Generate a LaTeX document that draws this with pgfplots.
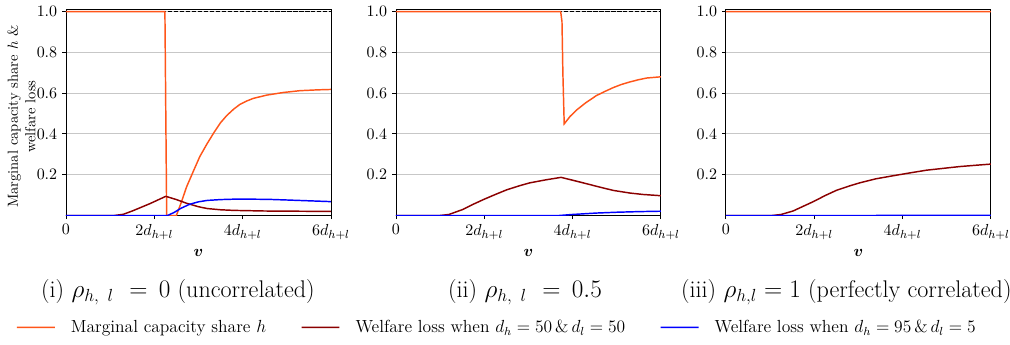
\documentclass[border=0pt]{standalone}
\usepackage{amsmath}
\usepackage{pgfplots}
\pgfplotsset{compat=1.18}
\definecolor{myorange}{RGB}{255,85,25}
\definecolor{mydarkred}{RGB}{139,0,0}
\definecolor{myblue}{RGB}{0,0,255}
\pgfplotsset{myax/.style={
  scale only axis, width=181.5pt, height=141.1pt,
  xmin=0, xmax=6, ymin=0, ymax=1.01,
  xtick={0,2,4,6},
  xticklabels={$0$,$2d_{h+l}$,$4d_{h+l}$,$6d_{h+l}$},
  ytick={0.2,0.4,0.6,0.8,1.0},
  yticklabel style={/pgf/number format/.cd, fixed, fixed zerofill, precision=1},
  ymajorgrids, grid style={black!22, line width=0.6pt},
  tick align=outside, tick pos=left,
  axis line style={line width=0.6pt},
  major tick length=2.5pt,
  every tick/.style={black, line width=0.6pt},
  tick label style={font=\fontsize{11}{13}\selectfont},
  xlabel={$\boldsymbol{v}$},
  xlabel style={font=\fontsize{10.5}{12}\selectfont},
}}
\begin{document}
\begin{tikzpicture}
\useasboundingbox (-45.2pt,-88.7pt) rectangle (646.6pt,147.6pt);
% Panel 1
\begin{axis}[myax, at={(0pt,0pt)},
  ylabel={\begin{tabular}{@{}c@{}}Marginal capacity share $h$ \&\\welfare loss\end{tabular}},
  ylabel style={font=\fontsize{10}{12}\selectfont,
    at={(axis description cs:-0.162,0.48)}, anchor=center},
  legend columns=3,
  legend style={at={(1.628,-0.5436)}, anchor=center, draw=none, fill=none,
    font=\fontsize{12}{14}\selectfont,
    /tikz/every odd column/.append style={column sep=8.5pt},
    /tikz/every even column/.append style={column sep=21.7pt}},
  legend cell align=left,
]
\addlegendimage{legend image code/.code={\draw[myorange, line width=1pt] (0pt,0pt) -- (26pt,0.05pt);}}
\addlegendentry{Marginal capacity share $h$}
\addlegendimage{legend image code/.code={\draw[mydarkred, line width=1pt] (0pt,0pt) -- (26pt,0.05pt);}}
\addlegendentry{Welfare loss when $d_h=50\,\&\,d_l=50$}
\addlegendimage{legend image code/.code={\draw[myblue, line width=1pt] (0pt,0pt) -- (26pt,0.05pt);}}
\addlegendentry{Welfare loss when $d_h=95\,\&\,d_l=5$}
\addplot[draw=black, dash pattern=on 2.8pt off 1.3pt, line width=0.6pt, forget plot] coordinates {(0,1) (3,1) (6,1)};
\addplot[draw=myorange, line width=1pt, forget plot] coordinates {(0,1) (2.24,1) (2.28,0) (2.5,0) (2.62,0.07) (2.73,0.14) (2.88,0.215) (3.03,0.289) (3.19,0.35) (3.34,0.403) (3.5,0.455) (3.64,0.49) (3.8,0.522) (3.94,0.545) (4.1,0.562) (4.24,0.574) (4.54,0.59) (4.92,0.603) (5.3,0.612) (5.7,0.616) (6,0.618)};
\addplot[draw=mydarkred, line width=1pt, forget plot] coordinates {(0,0) (1.1,0) (1.3,0.006) (1.5,0.022) (1.7,0.04) (1.9,0.058) (2.1,0.078) (2.26,0.094) (2.5,0.078) (2.73,0.06) (3.0,0.043) (3.2,0.034) (3.5,0.028) (3.8,0.025) (4.5,0.022) (5.2,0.021) (6,0.02)};
\addplot[draw=myblue, line width=1pt, forget plot] coordinates {(0,0) (2.3,0) (2.45,0.015) (2.6,0.035) (2.8,0.055) (3.0,0.067) (3.2,0.074) (3.5,0.078) (3.8,0.08) (4.2,0.08) (4.6,0.079) (5.0,0.076) (5.5,0.072) (6,0.068)};
\end{axis}
% Panel 2
\begin{axis}[myax, at={(226pt,0pt)}]
\addplot[draw=black, dash pattern=on 2.8pt off 1.3pt, line width=0.6pt] coordinates {(0,1) (3,1) (6,1)};
\addplot[draw=myorange, line width=1pt] coordinates {(0,1) (3.73,1) (3.76,0.95) (3.78,0.7) (3.81,0.449) (3.94,0.485) (4.09,0.517) (4.3,0.553) (4.54,0.588) (4.75,0.61) (4.92,0.627) (5.1,0.642) (5.3,0.655) (5.5,0.666) (5.68,0.674) (6,0.68)};
\addplot[draw=mydarkred, line width=1pt] coordinates {(0,0) (1.0,0) (1.2,0.005) (1.52,0.03) (1.75,0.055) (1.98,0.078) (2.25,0.103) (2.51,0.126) (2.8,0.146) (3.03,0.16) (3.4,0.175) (3.74,0.187) (4.0,0.173) (4.24,0.16) (4.6,0.14) (4.92,0.123) (5.3,0.11) (5.6,0.103) (6,0.097)};
\addplot[draw=myblue, line width=1pt] coordinates {(0,0) (3.7,0) (4.0,0.005) (4.54,0.012) (5.0,0.016) (5.5,0.019) (6,0.021)};
\end{axis}
% Panel 3
\begin{axis}[myax, at={(452pt,0pt)}]
\addplot[draw=black, dash pattern=on 2.8pt off 1.3pt, line width=0.6pt] coordinates {(0,1) (3,1) (6,1)};
\addplot[draw=myorange, line width=1pt] coordinates {(0,1) (3,1) (6,0.9995)};
\addplot[draw=mydarkred, line width=1pt] coordinates {(0,0) (1.05,0) (1.25,0.005) (1.52,0.022) (1.75,0.045) (1.98,0.068) (2.25,0.098) (2.51,0.124) (2.8,0.145) (3.03,0.16) (3.4,0.18) (3.79,0.195) (4.2,0.21) (4.54,0.222) (5.0,0.233) (5.3,0.24) (5.7,0.247) (6,0.252)};
\addplot[draw=myblue, line width=1pt] coordinates {(0,0) (3,0) (6,0.0005)};
\end{axis}
\node[font=\fontsize{16.5}{19}\selectfont] at (76.7pt,-52.7pt) {(i) $\rho_{h,\hspace{6pt}l\hspace{3pt}}\,=\,0$ (uncorrelated)};
\node[font=\fontsize{16.5}{19}\selectfont] at (314.4pt,-52.7pt) {(ii) $\rho_{h,\hspace{6pt}l\hspace{3pt}}\,=\,0.5$};
\node[font=\fontsize{16.5}{19}\selectfont] at (534.5pt,-52.7pt) {(iii) $\rho_{h,l}=1$ (perfectly correlated)};
\end{tikzpicture}
\end{document}
